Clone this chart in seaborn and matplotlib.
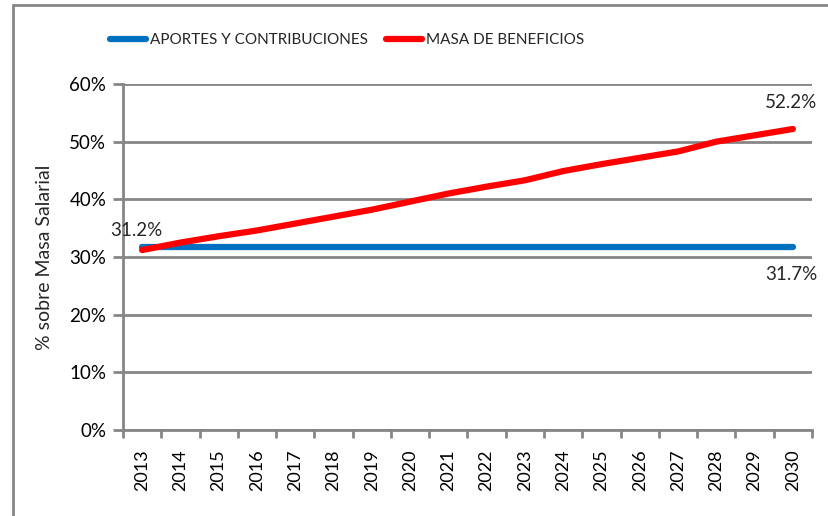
import pandas as pd
import seaborn as sns
import matplotlib.pyplot as plt
from matplotlib.lines import Line2D
from matplotlib.ticker import FixedLocator, PercentFormatter

years = [str(y) for y in range(2013, 2031)]
aportes = [31.7] * 18
beneficios = [31.2, 32.5, 33.6, 34.6, 35.8, 37.0, 38.2, 39.6, 41.0, 42.2, 43.3,
              44.9, 46.1, 47.2, 48.3, 50.0, 51.1, 52.2]
series_names = ['APORTES Y CONTRIBUCIONES', 'MASA DE BENEFICIOS']
colors = ['#0070C0', '#FF0000']

df = pd.DataFrame({'Año': years, series_names[0]: aportes, series_names[1]: beneficios})
df_long = df.melt(id_vars='Año', var_name='Serie', value_name='Valor')

sns.set_theme(style='white')
plt.rcParams['font.family'] = ['Lato', 'DejaVu Sans']

fig = plt.figure(figsize=(8.29, 5.16), dpi=100)
ax = fig.add_axes([123 / 829, 86 / 516, 689 / 829, 346 / 516])

sns.lineplot(data=df_long, x='Año', y='Valor', hue='Serie', palette=colors,
             linewidth=4.5, ax=ax, legend=False, zorder=3)
for ln in ax.lines:
    ln.set_solid_capstyle('round')

ax.set_ylim(0, 60)
ax.set_xlim(-0.5, len(years) - 0.5)
ax.set_yticks(range(0, 61, 10))
ax.yaxis.set_major_formatter(PercentFormatter(decimals=0))
ax.grid(axis='y', color='#868686', linewidth=2)
ax.set_axisbelow(True)

ax.set_xticks(range(len(years)))
ax.set_xticklabels(years, rotation=90)
ax.xaxis.set_minor_locator(FixedLocator([i - 0.5 for i in range(len(years) + 1)]))
ax.tick_params(axis='x', which='major', length=0, pad=14, labelsize=13, colors='black')
ax.tick_params(axis='x', which='minor', length=6, width=2, color='#868686', direction='out', bottom=True)
ax.tick_params(axis='y', length=7, width=2, color='#868686', direction='out', left=True,
               labelsize=13.5, pad=5, colors='black')

for side in ['top', 'right']:
    ax.spines[side].set_visible(False)
for side in ['left', 'bottom']:
    ax.spines[side].set_color('#868686')
    ax.spines[side].set_linewidth(2)

ax.set_xlabel('')
ax.set_ylabel('% sobre Masa Salarial', fontsize=14, labelpad=12)

ax.text(-0.15, beneficios[0] + 3.4, f'{beneficios[0]:.1f}%', ha='center', va='center', fontsize=13.5)
ax.text(len(years) - 1 - 0.05, beneficios[-1] + 4.6, f'{beneficios[-1]:.1f}%', ha='center',
        va='center', fontsize=13.5, clip_on=False)
ax.text(len(years) - 1 - 0.05, aportes[-1] - 4.8, f'{aportes[-1]:.1f}%', ha='center',
        va='center', fontsize=13.5)

handles = [Line2D([0], [0], color=c, linewidth=4.5, solid_capstyle='round') for c in colors]
fig.legend(handles, series_names, loc='center left', bbox_to_anchor=(110 / 829, 1 - 40 / 516),
           ncol=2, frameon=False, fontsize=11, handlelength=2.35, handletextpad=0.25,
           columnspacing=1.2, borderaxespad=0, borderpad=0)

fig.add_artist(Line2D([13 / 829, 13 / 829], [0, 1 - 5 / 516], color='#868686', linewidth=2,
                      transform=fig.transFigure))
fig.add_artist(Line2D([13 / 829, 1], [1 - 5 / 516, 1 - 5 / 516], color='#868686', linewidth=2,
                      transform=fig.transFigure))

fig.savefig('out.png', dpi=100)
